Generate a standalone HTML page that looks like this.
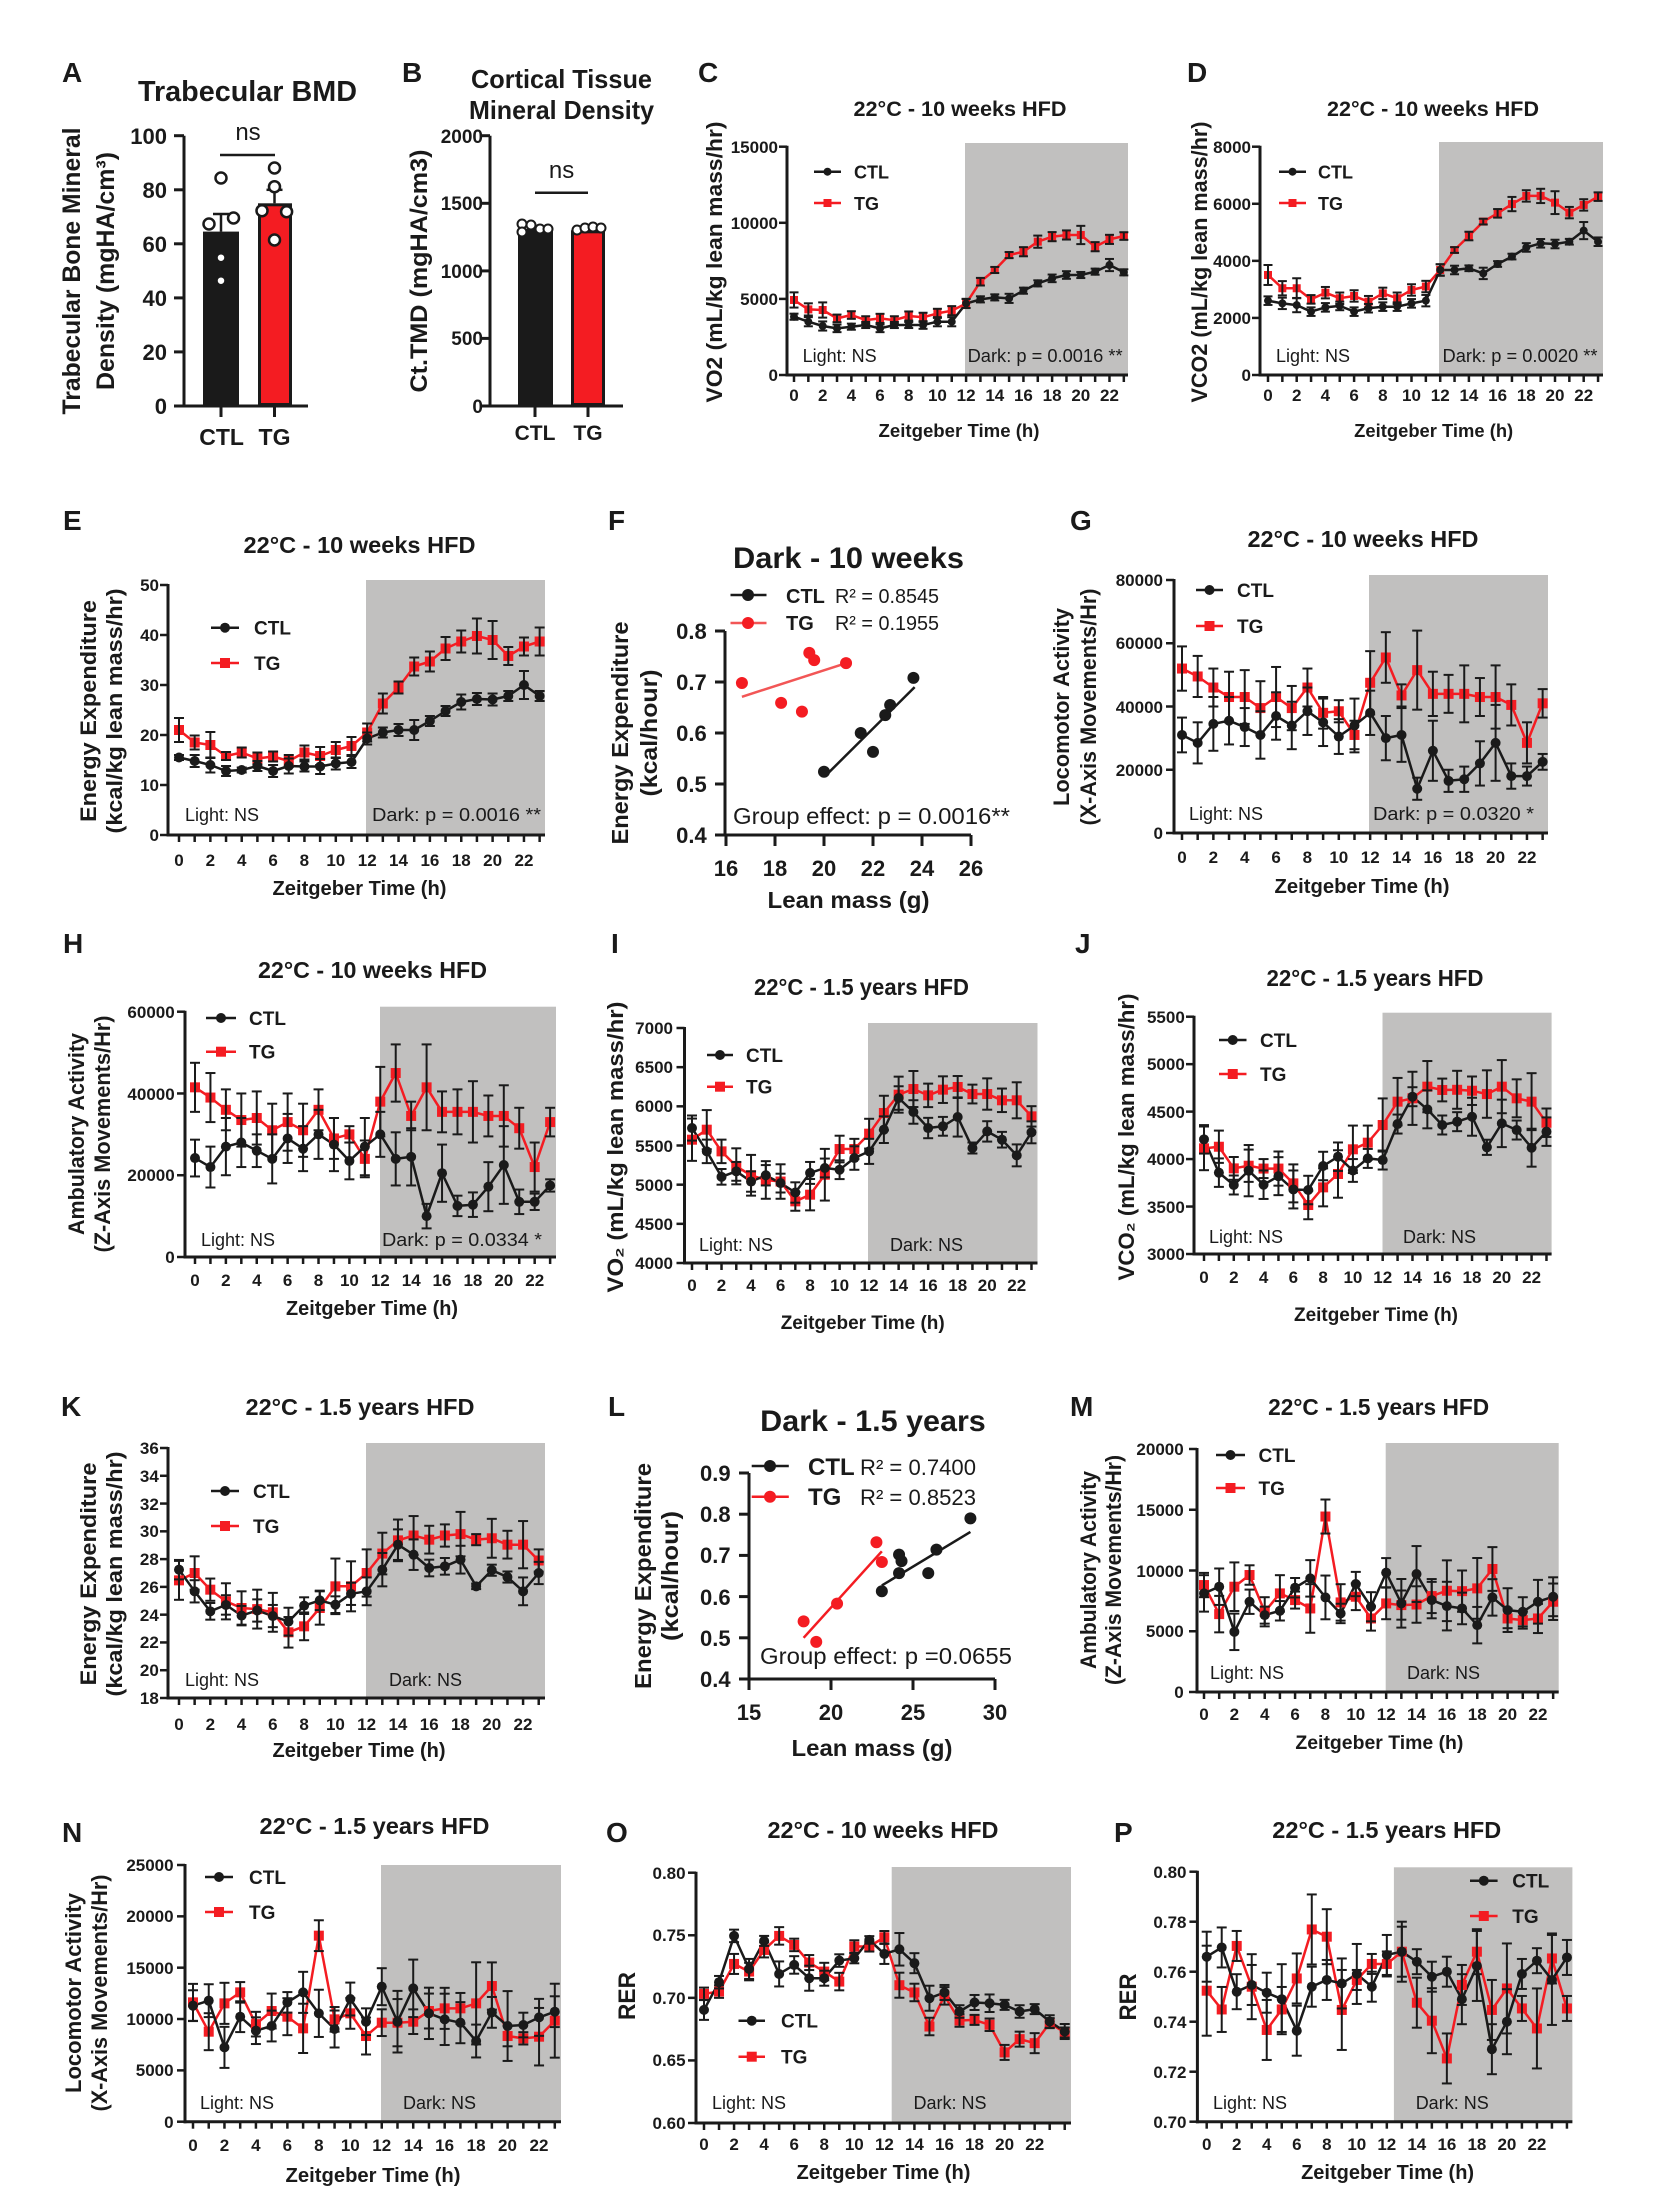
<!DOCTYPE html>
<html><head><meta charset="utf-8"><title>Figure</title>
<style>
html,body{margin:0;padding:0;background:#fff}
svg{display:block}
svg text{font-family:"Liberation Sans",Arial,sans-serif;fill:#1a1a1a}
.pl{font-size:28px;font-weight:700}
.ti{font-size:23px;font-weight:700;text-anchor:middle}
.yl{font-size:22px;font-weight:700;text-anchor:middle}
.tx{font-size:17px;font-weight:700;text-anchor:middle}
.ty{font-size:17px;font-weight:700;text-anchor:end}
.xt{font-size:19px;font-weight:700;text-anchor:middle}
.lg{font-size:19px;font-weight:700}
.ld{font-size:18px}
</style></head><body>
<svg xmlns="http://www.w3.org/2000/svg" width="1656" height="2211" viewBox="0 0 1656 2211">
<rect x="0" y="0" width="1656" height="2211" fill="#fff"/>
<g id="g"></g>

<!-- ===== A ===== -->
<g stroke="#1a1a1a" stroke-width="3">
<line x1="184" y1="135.7" x2="184" y2="407.5"/>
<line x1="182.5" y1="406" x2="308" y2="406"/>
<line x1="174" y1="406" x2="184" y2="406"/><line x1="174" y1="351.9" x2="184" y2="351.9"/><line x1="174" y1="297.9" x2="184" y2="297.9"/><line x1="174" y1="243.8" x2="184" y2="243.8"/><line x1="174" y1="189.8" x2="184" y2="189.8"/><line x1="174" y1="135.7" x2="184" y2="135.7"/>
<line x1="221" y1="406" x2="221" y2="417"/><line x1="274.5" y1="406" x2="274.5" y2="417"/>
</g>
<rect x="203" y="231.6" width="36" height="174.4" fill="#1a1a1a"/>
<rect x="259.5" y="204.8" width="31" height="199.7" fill="#f41c22" stroke="#1a1a1a" stroke-width="3"/>
<g stroke="#1a1a1a" stroke-width="2.5">
<line x1="221" y1="231.6" x2="221" y2="214"/><line x1="213" y1="214" x2="229" y2="214"/>
<line x1="274.5" y1="203.3" x2="274.5" y2="189.8"/><line x1="266.5" y1="189.8" x2="282.5" y2="189.8"/>
<line x1="220" y1="155" x2="275" y2="155"/>
</g>
<g fill="#fff" stroke="#1a1a1a" stroke-width="2.5">
<circle cx="221" cy="178" r="5.5"/><circle cx="209" cy="224" r="5.5"/><circle cx="233.5" cy="218" r="5.5"/><circle cx="221" cy="257.7" r="4.5"/><circle cx="221" cy="280.7" r="4.5"/>
<circle cx="274.5" cy="168" r="5.5"/><circle cx="274.5" cy="186.7" r="5.5"/><circle cx="262" cy="210.7" r="5.5"/><circle cx="286.6" cy="211.7" r="5.5"/><circle cx="274.5" cy="240" r="5.5"/>
</g>
<text class="pl" x="62" y="82">A</text>
<text class="ti" x="247.5" y="101" style="font-size:29px" textLength="219" lengthAdjust="spacingAndGlyphs">Trabecular BMD</text>
<text class="yl" style="font-size:25px" transform="translate(80,271) rotate(-90)" textLength="287" lengthAdjust="spacingAndGlyphs">Trabecular Bone Mineral</text>
<text class="yl" style="font-size:25px" transform="translate(114,271) rotate(-90)" textLength="238" lengthAdjust="spacingAndGlyphs">Density (mgHA/cm³)</text>
<text class="ty" style="font-size:22px"><tspan x="167" y="414">0</tspan><tspan x="167" y="360">20</tspan><tspan x="167" y="306">40</tspan><tspan x="167" y="252">60</tspan><tspan x="167" y="198">80</tspan><tspan x="167" y="144">100</tspan></text>
<text class="tx" style="font-size:23px" y="445"><tspan x="221.6">CTL</tspan><tspan x="274.5">TG</tspan></text>
<text x="248" y="140" style="font-size:24px" text-anchor="middle">ns</text>

<!-- ===== B ===== -->
<g stroke="#1a1a1a" stroke-width="3">
<line x1="490" y1="135.7" x2="490" y2="407.5"/>
<line x1="488.5" y1="406" x2="623" y2="406"/>
<line x1="480" y1="406" x2="490" y2="406"/><line x1="480" y1="338.4" x2="490" y2="338.4"/><line x1="480" y1="270.9" x2="490" y2="270.9"/><line x1="480" y1="203.3" x2="490" y2="203.3"/><line x1="480" y1="135.7" x2="490" y2="135.7"/>
<line x1="535" y1="406" x2="535" y2="417"/><line x1="588" y1="406" x2="588" y2="417"/>
</g>
<rect x="518" y="228.9" width="35" height="177.1" fill="#1a1a1a"/>
<rect x="572.5" y="231.8" width="31" height="172.7" fill="#f41c22" stroke="#1a1a1a" stroke-width="3"/>
<line x1="535" y1="192.7" x2="588" y2="192.7" stroke="#1a1a1a" stroke-width="2.5"/>
<g fill="#fff" stroke="#1a1a1a" stroke-width="2">
<circle cx="522" cy="224" r="4.5"/><circle cx="522" cy="232" r="4.5"/><circle cx="531" cy="225" r="4.5"/><circle cx="540" cy="229" r="4.5"/><circle cx="548" cy="229" r="4.5"/>
<circle cx="577" cy="230" r="4.5"/><circle cx="585" cy="228" r="4.5"/><circle cx="593" cy="227" r="4.5"/><circle cx="601" cy="228" r="4.5"/>
</g>
<text class="pl" x="402" y="82">B</text>
<text class="ti" x="561.5" y="88" style="font-size:26px" textLength="181" lengthAdjust="spacingAndGlyphs">Cortical Tissue</text>
<text class="ti" x="561.5" y="119" style="font-size:26px" textLength="185" lengthAdjust="spacingAndGlyphs">Mineral Density</text>
<text class="yl" style="font-size:24px" transform="translate(427,271) rotate(-90)" textLength="243" lengthAdjust="spacingAndGlyphs">Ct.TMD (mgHA/cm3)</text>
<text class="ty" style="font-size:19px"><tspan x="483" y="413">0</tspan><tspan x="483" y="345">500</tspan><tspan x="483" y="278">1000</tspan><tspan x="483" y="210">1500</tspan><tspan x="483" y="143">2000</tspan></text>
<text class="tx" style="font-size:21px" y="440"><tspan x="535">CTL</tspan><tspan x="588">TG</tspan></text>
<text x="561.6" y="178" style="font-size:24px" text-anchor="middle">ns</text>

<!-- ===== C ===== -->
<text class="pl" x="698" y="82">C</text>
<text class="ti" x="960" y="116" style="font-size:21px" textLength="213" lengthAdjust="spacingAndGlyphs">22°C - 10 weeks HFD</text>
<text class="yl" transform="translate(722,262) rotate(-90)" textLength="281" lengthAdjust="spacingAndGlyphs">VO2 (mL/kg lean mass/hr)</text>
<text class="ty"><tspan x="778" y="381">0</tspan><tspan x="778" y="305">5000</tspan><tspan x="778" y="229">10000</tspan><tspan x="778" y="153">15000</tspan></text>
<text class="tx" y="401"><tspan x="794">0</tspan><tspan x="822.7">2</tspan><tspan x="851.4">4</tspan><tspan x="880">6</tspan><tspan x="908.7">8</tspan><tspan x="937.4">10</tspan><tspan x="966.1">12</tspan><tspan x="994.8">14</tspan><tspan x="1023.4">16</tspan><tspan x="1052.1">18</tspan><tspan x="1080.8">20</tspan><tspan x="1109.5">22</tspan></text>
<text class="lg" style="font-size:18px" x="854" y="178.7">CTL</text>
<text class="lg" style="font-size:18px" x="854" y="210">TG</text>
<text class="ld" x="802.6" y="362">Light: NS</text>
<text class="ld" x="967.6" y="362" textLength="155" lengthAdjust="spacingAndGlyphs">Dark: p = 0.0016 **</text>
<text class="xt" x="959" y="437" style="font-size:18px" textLength="161" lengthAdjust="spacingAndGlyphs">Zeitgeber Time (h)</text>

<!-- ===== D ===== -->
<text class="pl" x="1187" y="82">D</text>
<text class="ti" x="1433" y="116" style="font-size:21px" textLength="212" lengthAdjust="spacingAndGlyphs">22°C - 10 weeks HFD</text>
<text class="yl" transform="translate(1207,262) rotate(-90)" textLength="281" lengthAdjust="spacingAndGlyphs">VCO2 (mL/kg lean mass/hr)</text>
<text class="ty"><tspan x="1251" y="381">0</tspan><tspan x="1251" y="324">2000</tspan><tspan x="1251" y="267">4000</tspan><tspan x="1251" y="210">6000</tspan><tspan x="1251" y="153">8000</tspan></text>
<text class="tx" y="401"><tspan x="1268">0</tspan><tspan x="1296.7">2</tspan><tspan x="1325.4">4</tspan><tspan x="1354.1">6</tspan><tspan x="1382.8">8</tspan><tspan x="1411.5">10</tspan><tspan x="1440.2">12</tspan><tspan x="1468.9">14</tspan><tspan x="1497.6">16</tspan><tspan x="1526.3">18</tspan><tspan x="1555">20</tspan><tspan x="1583.7">22</tspan></text>
<text class="lg" style="font-size:18px" x="1318" y="178.7">CTL</text>
<text class="lg" style="font-size:18px" x="1318" y="210">TG</text>
<text class="ld" x="1276" y="362">Light: NS</text>
<text class="ld" x="1442.5" y="362" textLength="155" lengthAdjust="spacingAndGlyphs">Dark: p = 0.0020 **</text>
<text class="xt" x="1433.7" y="437" style="font-size:18px" textLength="159" lengthAdjust="spacingAndGlyphs">Zeitgeber Time (h)</text>

<!-- ===== E ===== -->
<text class="pl" x="63" y="530">E</text>
<text class="ti" x="359.5" y="553" textLength="232" lengthAdjust="spacingAndGlyphs">22°C - 10 weeks HFD</text>
<text class="yl" transform="translate(96,711) rotate(-90)" textLength="222" lengthAdjust="spacingAndGlyphs">Energy Expenditure</text>
<text class="yl" transform="translate(122,711) rotate(-90)" textLength="245" lengthAdjust="spacingAndGlyphs">(kcal/kg lean mass/hr)</text>
<text class="ty"><tspan x="159" y="841">0</tspan><tspan x="159" y="791">10</tspan><tspan x="159" y="741">20</tspan><tspan x="159" y="691">30</tspan><tspan x="159" y="641">40</tspan><tspan x="159" y="591">50</tspan></text>
<text class="tx" y="866"><tspan x="179">0</tspan><tspan x="210.4">2</tspan><tspan x="241.7">4</tspan><tspan x="273.1">6</tspan><tspan x="304.4">8</tspan><tspan x="335.8">10</tspan><tspan x="367.2">12</tspan><tspan x="398.5">14</tspan><tspan x="429.9">16</tspan><tspan x="461.2">18</tspan><tspan x="492.6">20</tspan><tspan x="524">22</tspan></text>
<text class="lg" x="254" y="634.7">CTL</text>
<text class="lg" x="254" y="670">TG</text>
<text class="ld" x="185" y="821">Light: NS</text>
<text class="ld" x="372" y="821" textLength="169" lengthAdjust="spacingAndGlyphs">Dark: p = 0.0016 **</text>
<text class="xt" x="359.5" y="895" style="font-size:20px" textLength="174" lengthAdjust="spacingAndGlyphs">Zeitgeber Time (h)</text>

<!-- ===== F ===== -->
<text class="pl" x="608" y="530">F</text>
<text class="ti" x="848.5" y="568" style="font-size:30px" textLength="231" lengthAdjust="spacingAndGlyphs">Dark - 10 weeks</text>
<text class="yl" style="font-size:23px" transform="translate(628,733) rotate(-90)" textLength="223" lengthAdjust="spacingAndGlyphs">Energy Expenditure</text>
<text class="yl" style="font-size:23px" transform="translate(657,733) rotate(-90)" textLength="127" lengthAdjust="spacingAndGlyphs">(kcal/hour)</text>
<text class="ty" style="font-size:22px"><tspan x="706.7" y="843">0.4</tspan><tspan x="706.7" y="792">0.5</tspan><tspan x="706.7" y="741">0.6</tspan><tspan x="706.7" y="690">0.7</tspan><tspan x="706.7" y="639">0.8</tspan></text>
<text class="tx" style="font-size:22px" y="876"><tspan x="726">16</tspan><tspan x="775">18</tspan><tspan x="824">20</tspan><tspan x="873">22</tspan><tspan x="922">24</tspan><tspan x="971">26</tspan></text>
<text class="xt" x="848.5" y="908" style="font-size:23px" textLength="162" lengthAdjust="spacingAndGlyphs">Lean mass (g)</text>
<text class="lg" style="font-size:20px" x="786" y="603">CTL</text>
<text style="font-size:20px" x="835" y="603" textLength="104" lengthAdjust="spacingAndGlyphs">R² = 0.8545</text>
<text class="lg" style="font-size:20px" x="786" y="630">TG</text>
<text style="font-size:20px" x="835" y="630" textLength="104" lengthAdjust="spacingAndGlyphs">R² = 0.1955</text>
<text style="font-size:23px" x="733" y="824" textLength="277" lengthAdjust="spacingAndGlyphs">Group effect: p = 0.0016**</text>

<!-- ===== G ===== -->
<text class="pl" x="1070" y="530">G</text>
<text class="ti" x="1363" y="547" textLength="231" lengthAdjust="spacingAndGlyphs">22°C - 10 weeks HFD</text>
<text class="yl" transform="translate(1069,707) rotate(-90)" textLength="198" lengthAdjust="spacingAndGlyphs">Locomotor Activity</text>
<text class="yl" transform="translate(1096,707) rotate(-90)" textLength="237" lengthAdjust="spacingAndGlyphs">(X-Axis Movements/Hr)</text>
<text class="ty"><tspan x="1163" y="839">0</tspan><tspan x="1163" y="776">20000</tspan><tspan x="1163" y="713">40000</tspan><tspan x="1163" y="649">60000</tspan><tspan x="1163" y="586">80000</tspan></text>
<text class="tx" y="863"><tspan x="1182">0</tspan><tspan x="1213.4">2</tspan><tspan x="1244.7">4</tspan><tspan x="1276.1">6</tspan><tspan x="1307.4">8</tspan><tspan x="1338.8">10</tspan><tspan x="1370.2">12</tspan><tspan x="1401.5">14</tspan><tspan x="1432.9">16</tspan><tspan x="1464.2">18</tspan><tspan x="1495.6">20</tspan><tspan x="1527">22</tspan></text>
<text class="lg" x="1237" y="597">CTL</text>
<text class="lg" x="1237" y="633">TG</text>
<text class="ld" x="1189" y="820">Light: NS</text>
<text class="ld" x="1373" y="820" textLength="161" lengthAdjust="spacingAndGlyphs">Dark: p = 0.0320 *</text>
<text class="xt" x="1362" y="893" style="font-size:20px" textLength="175" lengthAdjust="spacingAndGlyphs">Zeitgeber Time (h)</text>

<!-- ===== H ===== -->
<text class="pl" x="63" y="953">H</text>
<text class="ti" x="372.5" y="978" textLength="229" lengthAdjust="spacingAndGlyphs">22°C - 10 weeks HFD</text>
<text class="yl" transform="translate(84,1134) rotate(-90)" textLength="202" lengthAdjust="spacingAndGlyphs">Ambulatory Activity</text>
<text class="yl" transform="translate(110,1134) rotate(-90)" textLength="237" lengthAdjust="spacingAndGlyphs">(Z-Axis Movements/Hr)</text>
<text class="ty"><tspan x="174.7" y="1263">0</tspan><tspan x="174.7" y="1181">20000</tspan><tspan x="174.7" y="1100">40000</tspan><tspan x="174.7" y="1018">60000</tspan></text>
<text class="tx" y="1286"><tspan x="195">0</tspan><tspan x="225.9">2</tspan><tspan x="256.8">4</tspan><tspan x="287.6">6</tspan><tspan x="318.5">8</tspan><tspan x="349.4">10</tspan><tspan x="380.3">12</tspan><tspan x="411.2">14</tspan><tspan x="442">16</tspan><tspan x="472.9">18</tspan><tspan x="503.8">20</tspan><tspan x="534.7">22</tspan></text>
<text class="lg" x="249" y="1025">CTL</text>
<text class="lg" x="249" y="1058.7">TG</text>
<text class="ld" x="201" y="1246">Light: NS</text>
<text class="ld" x="382" y="1246" textLength="160" lengthAdjust="spacingAndGlyphs">Dark: p = 0.0334 *</text>
<text class="xt" x="372" y="1315" style="font-size:20px" textLength="172" lengthAdjust="spacingAndGlyphs">Zeitgeber Time (h)</text>

<!-- ===== I ===== -->
<text class="pl" x="611" y="953">I</text>
<text class="ti" x="861.5" y="995" textLength="215" lengthAdjust="spacingAndGlyphs">22°C - 1.5 years HFD</text>
<text class="yl" transform="translate(623,1147) rotate(-90)" textLength="291" lengthAdjust="spacingAndGlyphs">VO₂ (mL/kg lean mass/hr)</text>
<text class="ty"><tspan x="673" y="1269">4000</tspan><tspan x="673" y="1230">4500</tspan><tspan x="673" y="1191">5000</tspan><tspan x="673" y="1152">5500</tspan><tspan x="673" y="1112">6000</tspan><tspan x="673" y="1073">6500</tspan><tspan x="673" y="1034">7000</tspan></text>
<text class="tx" y="1291"><tspan x="692">0</tspan><tspan x="721.5">2</tspan><tspan x="751">4</tspan><tspan x="780.6">6</tspan><tspan x="810.1">8</tspan><tspan x="839.6">10</tspan><tspan x="869.1">12</tspan><tspan x="898.6">14</tspan><tspan x="928.2">16</tspan><tspan x="957.7">18</tspan><tspan x="987.2">20</tspan><tspan x="1016.7">22</tspan></text>
<text class="lg" x="746" y="1062">CTL</text>
<text class="lg" x="746" y="1093.7">TG</text>
<text class="ld" x="699" y="1251">Light: NS</text>
<text class="ld" x="890" y="1251">Dark: NS</text>
<text class="xt" x="862.7" y="1329" textLength="164" lengthAdjust="spacingAndGlyphs">Zeitgeber Time (h)</text>

<!-- ===== J ===== -->
<text class="pl" x="1075" y="953">J</text>
<text class="ti" x="1375" y="986" textLength="217" lengthAdjust="spacingAndGlyphs">22°C - 1.5 years HFD</text>
<text class="yl" transform="translate(1134,1137) rotate(-90)" textLength="287" lengthAdjust="spacingAndGlyphs">VCO₂ (mL/kg lean mass/hr)</text>
<text class="ty"><tspan x="1184.8" y="1260">3000</tspan><tspan x="1184.8" y="1213">3500</tspan><tspan x="1184.8" y="1165">4000</tspan><tspan x="1184.8" y="1118">4500</tspan><tspan x="1184.8" y="1070">5000</tspan><tspan x="1184.8" y="1023">5500</tspan></text>
<text class="tx" y="1283"><tspan x="1204">0</tspan><tspan x="1233.8">2</tspan><tspan x="1263.6">4</tspan><tspan x="1293.3">6</tspan><tspan x="1323.1">8</tspan><tspan x="1352.9">10</tspan><tspan x="1382.7">12</tspan><tspan x="1412.5">14</tspan><tspan x="1442.2">16</tspan><tspan x="1472">18</tspan><tspan x="1501.8">20</tspan><tspan x="1531.6">22</tspan></text>
<text class="lg" x="1260" y="1047">CTL</text>
<text class="lg" x="1260" y="1081">TG</text>
<text class="ld" x="1209" y="1243">Light: NS</text>
<text class="ld" x="1403" y="1243">Dark: NS</text>
<text class="xt" x="1376" y="1321" textLength="164" lengthAdjust="spacingAndGlyphs">Zeitgeber Time (h)</text>

<!-- ===== K ===== -->
<text class="pl" x="61" y="1416">K</text>
<text class="ti" x="360" y="1415" textLength="229" lengthAdjust="spacingAndGlyphs">22°C - 1.5 years HFD</text>
<text class="yl" transform="translate(96,1574) rotate(-90)" textLength="223" lengthAdjust="spacingAndGlyphs">Energy Expenditure</text>
<text class="yl" transform="translate(122,1574) rotate(-90)" textLength="245" lengthAdjust="spacingAndGlyphs">(kcal/kg lean mass/hr)</text>
<text class="ty"><tspan x="158.8" y="1704">18</tspan><tspan x="158.8" y="1676">20</tspan><tspan x="158.8" y="1648">22</tspan><tspan x="158.8" y="1621">24</tspan><tspan x="158.8" y="1593">26</tspan><tspan x="158.8" y="1565">28</tspan><tspan x="158.8" y="1537">30</tspan><tspan x="158.8" y="1510">32</tspan><tspan x="158.8" y="1482">34</tspan><tspan x="158.8" y="1454">36</tspan></text>
<text class="tx" y="1730"><tspan x="179">0</tspan><tspan x="210.3">2</tspan><tspan x="241.5">4</tspan><tspan x="272.8">6</tspan><tspan x="304.1">8</tspan><tspan x="335.4">10</tspan><tspan x="366.6">12</tspan><tspan x="397.9">14</tspan><tspan x="429.2">16</tspan><tspan x="460.4">18</tspan><tspan x="491.7">20</tspan><tspan x="523">22</tspan></text>
<text class="lg" x="253" y="1498">CTL</text>
<text class="lg" x="253" y="1533">TG</text>
<text class="ld" x="185" y="1686">Light: NS</text>
<text class="ld" x="389" y="1686">Dark: NS</text>
<text class="xt" x="359" y="1757" style="font-size:20px" textLength="173" lengthAdjust="spacingAndGlyphs">Zeitgeber Time (h)</text>

<!-- ===== L ===== -->
<text class="pl" x="608" y="1416">L</text>
<text class="ti" x="873" y="1431" style="font-size:30px" textLength="225.6" lengthAdjust="spacingAndGlyphs">Dark - 1.5 years</text>
<text class="yl" style="font-size:23px" transform="translate(651,1576) rotate(-90)" textLength="226" lengthAdjust="spacingAndGlyphs">Energy Expenditure</text>
<text class="yl" style="font-size:23px" transform="translate(678,1576) rotate(-90)" textLength="130" lengthAdjust="spacingAndGlyphs">(kcal/hour)</text>
<text class="ty" style="font-size:22px"><tspan x="730.6" y="1687">0.4</tspan><tspan x="730.6" y="1646">0.5</tspan><tspan x="730.6" y="1605">0.6</tspan><tspan x="730.6" y="1563">0.7</tspan><tspan x="730.6" y="1522">0.8</tspan><tspan x="730.6" y="1481">0.9</tspan></text>
<text class="tx" style="font-size:22px" y="1720"><tspan x="749">15</tspan><tspan x="831">20</tspan><tspan x="913">25</tspan><tspan x="995">30</tspan></text>
<text class="xt" x="872" y="1756" style="font-size:23px" textLength="161" lengthAdjust="spacingAndGlyphs">Lean mass (g)</text>
<text class="lg" style="font-size:24px" x="808" y="1475">CTL</text>
<text style="font-size:22px" x="860" y="1475" textLength="116" lengthAdjust="spacingAndGlyphs">R² = 0.7400</text>
<text class="lg" style="font-size:24px" x="808" y="1505">TG</text>
<text style="font-size:22px" x="860" y="1505" textLength="116" lengthAdjust="spacingAndGlyphs">R² = 0.8523</text>
<text style="font-size:23px" x="760" y="1664" textLength="252" lengthAdjust="spacingAndGlyphs">Group effect: p =0.0655</text>

<!-- ===== M ===== -->
<text class="pl" x="1070" y="1416">M</text>
<text class="ti" x="1378.6" y="1415" textLength="221" lengthAdjust="spacingAndGlyphs">22°C - 1.5 years HFD</text>
<text class="yl" transform="translate(1096,1570) rotate(-90)" textLength="198" lengthAdjust="spacingAndGlyphs">Ambulatory Activity</text>
<text class="yl" transform="translate(1121,1570) rotate(-90)" textLength="230" lengthAdjust="spacingAndGlyphs">(Z-Axis Movements/Hr)</text>
<text class="ty"><tspan x="1183.7" y="1698">0</tspan><tspan x="1183.7" y="1637">5000</tspan><tspan x="1183.7" y="1577">10000</tspan><tspan x="1183.7" y="1516">15000</tspan><tspan x="1183.7" y="1455">20000</tspan></text>
<text class="tx" y="1720"><tspan x="1204">0</tspan><tspan x="1234.4">2</tspan><tspan x="1264.7">4</tspan><tspan x="1295.1">6</tspan><tspan x="1325.4">8</tspan><tspan x="1355.8">10</tspan><tspan x="1386.2">12</tspan><tspan x="1416.5">14</tspan><tspan x="1446.9">16</tspan><tspan x="1477.2">18</tspan><tspan x="1507.6">20</tspan><tspan x="1538">22</tspan></text>
<text class="lg" x="1258.5" y="1462">CTL</text>
<text class="lg" x="1258.5" y="1495">TG</text>
<text class="ld" x="1210" y="1679">Light: NS</text>
<text class="ld" x="1407" y="1679">Dark: NS</text>
<text class="xt" x="1379.4" y="1749" textLength="168" lengthAdjust="spacingAndGlyphs">Zeitgeber Time (h)</text>

<!-- ===== N ===== -->
<text class="pl" x="62" y="1842">N</text>
<text class="ti" x="374.5" y="1834" textLength="230" lengthAdjust="spacingAndGlyphs">22°C - 1.5 years HFD</text>
<text class="yl" transform="translate(81,1993) rotate(-90)" textLength="200" lengthAdjust="spacingAndGlyphs">Locomotor Activity</text>
<text class="yl" transform="translate(107,1993) rotate(-90)" textLength="237" lengthAdjust="spacingAndGlyphs">(X-Axis Movements/Hr)</text>
<text class="ty"><tspan x="173.6" y="2128">0</tspan><tspan x="173.6" y="2076">5000</tspan><tspan x="173.6" y="2025">10000</tspan><tspan x="173.6" y="1974">15000</tspan><tspan x="173.6" y="1922">20000</tspan><tspan x="173.6" y="1871">25000</tspan></text>
<text class="tx" y="2151"><tspan x="193">0</tspan><tspan x="224.5">2</tspan><tspan x="255.9">4</tspan><tspan x="287.4">6</tspan><tspan x="318.8">8</tspan><tspan x="350.3">10</tspan><tspan x="381.7">12</tspan><tspan x="413.2">14</tspan><tspan x="444.6">16</tspan><tspan x="476.1">18</tspan><tspan x="507.5">20</tspan><tspan x="539">22</tspan></text>
<text class="lg" x="249" y="1884">CTL</text>
<text class="lg" x="249" y="1919">TG</text>
<text class="ld" x="200" y="2109">Light: NS</text>
<text class="ld" x="403" y="2109">Dark: NS</text>
<text class="xt" x="373" y="2182" style="font-size:20px" textLength="175" lengthAdjust="spacingAndGlyphs">Zeitgeber Time (h)</text>

<!-- ===== O ===== -->
<text class="pl" x="606" y="1842">O</text>
<text class="ti" x="883" y="1838" textLength="231" lengthAdjust="spacingAndGlyphs">22°C - 10 weeks HFD</text>
<text class="yl" style="font-size:24px" transform="translate(635,1996) rotate(-90)" textLength="48" lengthAdjust="spacingAndGlyphs">RER</text>
<text class="ty"><tspan x="685.6" y="2129">0.60</tspan><tspan x="685.6" y="2066">0.65</tspan><tspan x="685.6" y="2004">0.70</tspan><tspan x="685.6" y="1941">0.75</tspan><tspan x="685.6" y="1879">0.80</tspan></text>
<text class="tx" y="2150"><tspan x="704">0</tspan><tspan x="734.1">2</tspan><tspan x="764.1">4</tspan><tspan x="794.2">6</tspan><tspan x="824.2">8</tspan><tspan x="854.3">10</tspan><tspan x="884.4">12</tspan><tspan x="914.4">14</tspan><tspan x="944.5">16</tspan><tspan x="974.5">18</tspan><tspan x="1004.6">20</tspan><tspan x="1034.7">22</tspan></text>
<text class="lg" x="781" y="2027.7">CTL</text>
<text class="lg" x="781" y="2063.7">TG</text>
<text class="ld" x="712" y="2109">Light: NS</text>
<text class="ld" x="913.5" y="2109">Dark: NS</text>
<text class="xt" x="883.5" y="2179" style="font-size:20px" textLength="174" lengthAdjust="spacingAndGlyphs">Zeitgeber Time (h)</text>

<!-- ===== P ===== -->
<text class="pl" x="1114" y="1842">P</text>
<text class="ti" x="1386.8" y="1838" textLength="229" lengthAdjust="spacingAndGlyphs">22°C - 1.5 years HFD</text>
<text class="yl" style="font-size:24px" transform="translate(1136,1997) rotate(-90)" textLength="47" lengthAdjust="spacingAndGlyphs">RER</text>
<text class="ty"><tspan x="1186.5" y="2128">0.70</tspan><tspan x="1186.5" y="2078">0.72</tspan><tspan x="1186.5" y="2028">0.74</tspan><tspan x="1186.5" y="1978">0.76</tspan><tspan x="1186.5" y="1928">0.78</tspan><tspan x="1186.5" y="1878">0.80</tspan></text>
<text class="tx" y="2150"><tspan x="1206.7">0</tspan><tspan x="1236.7">2</tspan><tspan x="1266.7">4</tspan><tspan x="1296.8">6</tspan><tspan x="1326.8">8</tspan><tspan x="1356.8">10</tspan><tspan x="1386.8">12</tspan><tspan x="1416.8">14</tspan><tspan x="1446.9">16</tspan><tspan x="1476.9">18</tspan><tspan x="1506.9">20</tspan><tspan x="1536.9">22</tspan></text>
<text class="lg" x="1512.3" y="1887.7">CTL</text>
<text class="lg" x="1512.3" y="1923">TG</text>
<text class="ld" x="1213" y="2109">Light: NS</text>
<text class="ld" x="1415.7" y="2109">Dark: NS</text>
<text class="xt" x="1387.6" y="2179" style="font-size:20px" textLength="173" lengthAdjust="spacingAndGlyphs">Zeitgeber Time (h)</text>
</svg>

<script>
(function(){
var NS='http://www.w3.org/2000/svg', G=document.getElementById('g');
var K='#1a1a1a', R='#f41c22', LR='#f25656';
function E(n,a){var e=document.createElementNS(NS,n);for(var k in a)e.setAttribute(k,a[k]);G.appendChild(e);return e;}
function ln(x1,y1,x2,y2,c,w){return E('line',{x1:x1,y1:y1,x2:x2,y2:y2,stroke:c||K,'stroke-width':w||2.5});}
function mk(x,y,sq,c,s){ if(sq) E('rect',{x:x-s,y:y-s,width:2*s,height:2*s,fill:c}); else E('circle',{cx:x,cy:y,r:s,fill:c}); }
function ts(p){
 var X=function(h){return p.x0+h*p.pph}, Y=function(v){return p.yB-(v-p.y0)/(p.y1-p.y0)*(p.yB-p.yT)};
 var ms=p.ms||5, cw=p.cw||5;
 E('rect',{x:p.gx,y:p.gt,width:p.xe-p.gx,height:p.yB-p.gt,fill:'#c1c0bf'});
 p.yt.forEach(function(v){ln(p.ax-8,Y(v),p.ax,Y(v),K,2.5);});
 var n=p.c.length;
 for(var h=0;h<n;h++) ln(X(h),p.yB,X(h),p.yB+7,K,2.5);
 ln(p.ax,p.yT-1,p.ax,p.yB+1.5,K,3);
 ln(p.ax-1.5,p.yB,p.xe,p.yB,K,3);
 [[p.t,R],[p.c,K]].forEach(function(s){
   var d='';s[0].forEach(function(v,i){d+=(i?'L':'M')+X(i).toFixed(1)+' '+Y(v).toFixed(1);});
   E('path',{d:d,fill:'none',stroke:s[1],'stroke-width':2.5,'stroke-linejoin':'round'});
 });
 [[p.t,R,1],[p.c,K,0]].forEach(function(s){ s[0].forEach(function(v,i){ mk(X(i),Y(v),s[2],s[1],ms); }); });
 [[p.t,p.te],[p.c,p.ce]].forEach(function(s){
   s[0].forEach(function(v,i){ var e=s[1][i], x=X(i), a=Y(v+e), b=Y(v-e);
     ln(x,a,x,b,K,2); ln(x-cw,a,x+cw,a,K,2); ln(x-cw,b,x+cw,b,K,2); });
 });
 var L=p.lg, mx=(L[0]+L[1])/2;
 ln(L[0],L[2],L[1],L[2],K,2.5); mk(mx,L[2],0,K,ms);
 ln(L[0],L[3],L[1],L[3],R,2.5); mk(mx,L[3],1,R,ms);
}
// C
ts({ax:787,x0:794,pph:14.34,xe:1128,yB:375,yT:146.7,y0:0,y1:15000,yt:[0,5000,10000,15000],gx:965,gt:143,ms:4,cw:4.5,lg:[814,841,171.7,203],
 c:[3830,3500,3220,3065,3175,3285,3065,3285,3285,3285,3500,3500,4700,4970,5100,5035,5540,6020,6350,6570,6570,6790,7225,6745],
 t:[4930,4310,4270,3720,3940,3610,3720,3610,3875,3790,4050,4225,4700,6130,6900,7880,8100,8760,9090,9200,9200,8430,8910,9130],
 ce:[200,300,300,250,200,200,250,200,200,250,300,300,300,200,200,300,200,200,250,250,200,200,400,200],
 te:[500,400,500,250,250,250,300,250,300,300,300,300,300,250,200,200,300,400,300,300,600,300,300,250]});
// D
ts({ax:1260,x0:1268,pph:14.35,xe:1603,yB:375,yT:146.7,y0:0,y1:8000,yt:[0,2000,4000,6000,8000],gx:1439,gt:142,ms:4,cw:4.5,lg:[1279,1306,171.7,203],
 c:[2605,2510,2450,2220,2370,2420,2220,2340,2395,2395,2510,2605,3680,3680,3740,3560,3890,4150,4470,4615,4590,4670,5060,4670],
 t:[3505,3040,3040,2650,2885,2690,2770,2570,2860,2690,2980,3100,3680,4380,4870,5375,5665,5990,6275,6275,6040,5690,5960,6250],
 ce:[150,200,250,150,150,150,150,150,150,150,150,200,200,150,100,200,100,100,150,150,150,100,300,150],
 te:[350,250,350,150,200,200,200,200,200,200,200,200,200,100,150,100,150,250,200,250,400,200,200,150]});
// E
ts({ax:168,x0:179,pph:15.68,xe:545,yB:835,yT:585,y0:0,y1:50,yt:[0,10,20,30,40,50],gx:366,gt:580,lg:[211,239,627.7,663],
 c:[15.5,14.8,14,12.8,13,13.8,12.8,13.8,13.7,13.7,14.3,14.6,19.3,20.5,21,21,22.8,24.8,26.6,27.2,27.1,27.8,30.0,27.8],
 t:[21,18.5,18,15.8,16.5,15.3,15.7,14.8,16.5,15.8,17,17.8,20.5,26.3,29.5,33.7,34.7,37.3,38.7,39.8,39.0,35.8,37.7,38.7],
 ce:[0.5,1.2,1.5,1,0.5,1,1.2,1.5,1,1.5,1.2,1.2,1.2,1,1.2,2,1,1,1.5,1.2,1.2,1,2.8,1],
 te:[2.4,1.4,2.6,0.8,1,1.2,1,1.2,1.4,1.8,1.6,1.8,1.8,2,1.2,1.8,2,2.3,2.2,3.5,3.8,1.8,1.8,2.8]});
// G
ts({ax:1174,x0:1182,pph:15.68,xe:1548,yB:833,yT:580,y0:0,y1:80000,yt:[0,20000,40000,60000,80000],gx:1369,gt:575,lg:[1196,1223,590,626],
 c:[31000,28500,34500,35500,33500,31000,37000,34000,38500,35000,30500,34000,38000,30000,31000,14000,26000,16500,17000,22000,28500,18000,18000,22500],
 t:[52000,49500,46000,43000,43000,39500,43000,39500,46000,38000,38500,31000,47500,55500,43500,51500,44000,44000,44000,43000,43000,40500,28500,41000],
 ce:[5500,6500,8500,7500,6000,7500,7500,7500,7500,7500,5500,8500,7000,7000,8500,3500,9500,3500,4000,7000,12000,4000,3000,2500],
 te:[7000,6500,6000,8000,8500,8500,9500,7000,6000,5000,3500,4500,10000,8000,3500,12500,7000,6000,9000,6000,10000,6500,6500,4500]});
// H
ts({ax:185,x0:195,pph:15.44,xe:556,yB:1257,yT:1011.7,y0:0,y1:60000,yt:[0,20000,40000,60000],gx:380,gt:1006.7,lg:[206,236,1018,1051.7],
 c:[24200,22000,27000,28000,26000,24000,29000,26500,30000,27500,23500,27000,30000,24000,24500,10000,20500,12500,12800,17200,22500,13500,13500,17500],
 t:[41500,39000,36000,33500,34000,31000,33000,31000,36000,29000,30000,24000,38000,45000,34500,41500,35500,35500,35500,34500,34500,31500,22000,33000],
 ce:[4500,5000,7000,6000,4000,6000,6000,5500,6000,6500,4500,7000,5500,6500,7000,3000,7000,2500,3000,6000,9500,3000,2000,1500],
 te:[6000,6000,5000,6500,6500,6500,7000,6500,5000,5000,2000,4500,8500,7000,3500,10500,5000,5500,7500,5000,7500,5000,6000,3500]});
// I
ts({ax:684.5,x0:692,pph:14.76,xe:1037.5,yB:1263,yT:1028,y0:4000,y1:7000,yt:[4000,4500,5000,5500,6000,6500,7000],gx:868,gt:1023,lg:[707,733,1055,1086.7],
 c:[5723,5425,5100,5170,5040,5120,5020,4900,5150,5213,5191,5340,5425,5702,6106,5928,5723,5745,5864,5468,5680,5574,5374,5668],
 t:[5574,5702,5425,5234,5120,5060,5040,4787,4872,5127,5455,5455,5651,5915,6149,6221,6140,6213,6247,6157,6157,6077,6077,5872],
 ce:[160,150,100,120,130,130,120,130,140,120,120,150,160,170,150,150,130,120,250,70,130,100,140,140],
 te:[270,250,150,230,260,240,220,120,200,330,170,130,190,220,230,230,150,170,140,120,200,150,230,130]});
// J
ts({ax:1194,x0:1204,pph:14.89,xe:1551.6,yB:1254,yT:1016.7,y0:3000,y1:5500,yt:[3000,3500,4000,4500,5000,5500],gx:1382.5,gt:1012.7,lg:[1219,1246.5,1040,1074],
 c:[4208,3857,3727,3878,3730,3820,3680,3674,3927,4025,3880,4007,3990,4369,4657,4524,4359,4394,4446,4124,4376,4306,4120,4289],
 t:[4113,4130,3902,3930,3900,3900,3744,3516,3702,3843,4103,4173,4359,4605,4640,4763,4728,4730,4720,4685,4763,4640,4605,4383],
 ce:[150,150,100,270,150,200,200,150,150,150,120,100,100,100,100,200,100,100,200,80,250,100,200,150],
 te:[230,170,120,170,100,180,200,150,200,250,250,180,280,250,280,270,120,200,150,250,280,200,300,150]});
// K
ts({ax:168,x0:179,pph:15.64,xe:545,yB:1698,yT:1448,y0:18,y1:36,yt:[18,20,22,24,26,28,30,32,34,36],gx:366,gt:1443,lg:[211,239,1491,1526],
 c:[27.24,25.68,24.24,24.7,23.93,24.3,23.9,23.5,24.65,25.03,24.72,25.5,25.68,27.24,29.04,28.32,27.36,27.48,27.96,26.04,27.2,26.71,25.68,27.0],
 t:[26.47,27.0,25.8,24.96,24.48,24.4,24.17,22.73,23.16,24.48,26.04,26.04,27.0,28.4,29.35,29.7,29.4,29.7,29.8,29.4,29.5,29.04,29.04,27.9],
 ce:[0.7,0.8,0.6,0.7,0.7,0.8,0.8,1,0.6,0.7,0.6,0.8,1,1.2,1.1,1.1,0.6,0.6,1,0.2,0.4,0.4,1,0.8],
 te:[1.4,1.2,0.8,1.3,1.2,1.4,1.4,1.1,1,1.2,2,1.8,1.7,1.5,1.5,1.4,1,0.8,1.6,0.4,1.4,1,1.7,0.8]});
// M
ts({ax:1197,x0:1204,pph:15.18,xe:1558.7,yB:1692,yT:1449,y0:0,y1:20000,yt:[0,5000,10000,15000,20000],gx:1385.7,gt:1443,lg:[1216,1245,1455,1488],
 c:[8115,8666,4952,7428,6327,6685,8583,9353,7785,6465,8886,7015,9821,7300,9711,7565,7070,6877,5502,7785,6740,6600,7428,7840],
 t:[8803,6410,8666,9628,6602,8115,7565,6877,14442,7373,7840,6052,7290,7153,7200,7895,8335,8300,8528,10124,6052,5915,6052,7428],
 ce:[1500,1500,1500,1000,700,800,800,1500,1800,800,1000,1200,1200,2000,2300,1500,2000,1300,1500,1500,1800,1200,1800,1600],
 te:[1000,1500,2000,800,1200,1500,700,2000,1400,1500,1100,1000,1300,1200,1500,1400,2500,1700,2500,1800,800,700,1200,1500]});
// N
ts({ax:185,x0:193,pph:15.73,xe:561,yB:2121.7,yT:1865,y0:0,y1:25000,yt:[0,5000,10000,15000,20000,25000],gx:381,gt:1865,lg:[205,233,1877,1912],
 c:[11300,11786,7240,10227,8864,9318,11623,12597,10552,9026,11948,9740,13149,9740,12987,10552,9968,9643,7857,10649,9318,9416,10162,10714],
 t:[11623,8766,11526,12597,9500,10779,10227,9091,18117,9968,10552,8344,9643,9643,9740,10779,11039,11039,11526,13214,8344,8117,8279,9838],
 ce:[1500,1600,2000,1500,1300,1500,1000,2000,2300,1800,1600,1300,1800,3000,2800,2500,2500,2000,1600,1500,3400,1200,1800,1500],
 te:[1800,1800,2000,1000,1200,1700,1800,2400,1500,1200,1500,1800,1300,2300,1200,1700,2000,1500,4000,2300,1000,600,2800,3600]});
// O
ts({ax:696,x0:704,pph:15.03,xe:1071,yB:2123,yT:1872.7,y0:0.6,y1:0.8,yt:[0.6,0.65,0.7,0.75,0.8],gx:891.7,gt:1867,lg:[738.5,765,2020.7,2056.7],
 c:[.6904,.7125,.7495,.7231,.7455,.7191,.7263,.7157,.7157,.7298,.7316,.7463,.7351,.7388,.7277,.6997,.7043,.6891,.6963,.6957,.6944,.6891,.691,.6811,.6731],
 t:[.7032,.705,.7271,.721,.7383,.7495,.7423,.7282,.721,.713,.741,.741,.7484,.7101,.7043,.6771,.7016,.6819,.6824,.6785,.6564,.667,.6638,.6798,.6723],
 ce:[.008,.005,.005,.008,.004,.01,.007,.01,.006,.005,.004,.003,.008,.013,.008,.01,.006,.005,.006,.007,.004,.005,.004,.005,.006],
 te:[.005,.005,.008,.007,.006,.007,.005,.006,.007,.007,.005,.004,.005,.01,.007,.007,.007,.005,.004,.005,.006,.006,.008,.004,.004]});
// P
ts({ax:1197.4,x0:1206.7,pph:15.01,xe:1572.4,yB:2121.7,yT:1871.7,y0:0.7,y1:0.8,yt:[0.7,0.72,0.74,0.76,0.78,0.8],gx:1393.9,gt:1867.3,lg:[1470,1497.6,1880.7,1916],
 c:[.766,.7697,.752,.7547,.7516,.749,.7364,.754,.7567,.7553,.7591,.754,.7667,.768,.764,.758,.76,.749,.7623,.729,.74,.7591,.7644,.7567,.7657],
 t:[.7524,.7449,.7703,.754,.7367,.7449,.7573,.7769,.774,.7447,.7567,.7631,.7631,.768,.7476,.7404,.7253,.7547,.768,.7447,.7533,.7453,.7373,.7653,.7453],
 ce:[.01,.008,.007,.008,.008,.014,.01,.008,.008,.01,.012,.006,.008,.012,.005,.006,.006,.01,.014,.01,.013,.006,.005,.018,.007],
 te:[.018,.009,.006,.013,.012,.009,.01,.014,.011,.016,.004,.004,.005,.01,.01,.013,.01,.008,.009,.012,.018,.005,.016,.01,.005]});

// Scatter F
(function(){
 var X=function(g){return 726+(g-16)*24.5}, Y=function(v){return 835-(v-0.4)*510};
 [0.4,0.5,0.6,0.7,0.8].forEach(function(v){ln(715,Y(v),725,Y(v),K,3);});
 [16,18,20,22,24,26].forEach(function(g){ln(X(g),835,X(g),846,K,3);});
 ln(725,631,725,836.5,K,3); ln(723.5,835,971,835,K,3);
 ln(X(16.65),Y(0.671),X(20.9),Y(0.737),LR,2.5);
 ln(X(20.1),Y(0.518),X(23.7),Y(0.69),K,2.5);
 [[16.65,.698],[18.25,.659],[19.1,.642],[19.4,.757],[19.6,.743],[20.9,.737]].forEach(function(p){mk(X(p[0]),Y(p[1]),0,R,6);});
 [[20.0,.524],[21.5,.60],[22.0,.563],[22.5,.635],[22.7,.655],[23.65,.708]].forEach(function(p){mk(X(p[0]),Y(p[1]),0,K,6);});
 ln(730.5,595,766.5,595,K,2.5); mk(748,595,0,K,6);
 ln(730.5,623,766.5,623,LR,2.5); mk(748,623,0,R,6);
})();
// Scatter L
(function(){
 var X=function(g){return 749+(g-15)*16.4}, Y=function(v){return 1679-(v-0.4)*412};
 [0.4,0.5,0.6,0.7,0.8,0.9].forEach(function(v){ln(739,Y(v),749,Y(v),K,3);});
 [15,20,25,30].forEach(function(g){ln(X(g),1679,X(g),1690,K,3);});
 ln(749,1473,749,1680.5,K,3); ln(747.5,1679,995,1679,K,3);
 ln(X(18.33),Y(0.50),X(23.1),Y(0.71),R,2.5);
 ln(X(23.1),Y(0.627),X(28.5),Y(0.757),K,2.5);
 [[18.33,.54],[19.1,.49],[20.37,.583],[22.77,.732],[23.1,.684]].forEach(function(p){mk(X(p[0]),Y(p[1]),0,R,6);});
 [[23.1,.613],[24.15,.702],[24.3,.686],[24.15,.657],[25.93,.657],[26.43,.714],[28.5,.79]].forEach(function(p){mk(X(p[0]),Y(p[1]),0,K,6);});
 ln(751.7,1466,788.8,1466,K,2.5); mk(770,1466,0,K,6);
 ln(751.7,1496.7,788.8,1496.7,R,2.5); mk(770,1496.7,0,R,6);
})();
})();
</script>
</body></html>
